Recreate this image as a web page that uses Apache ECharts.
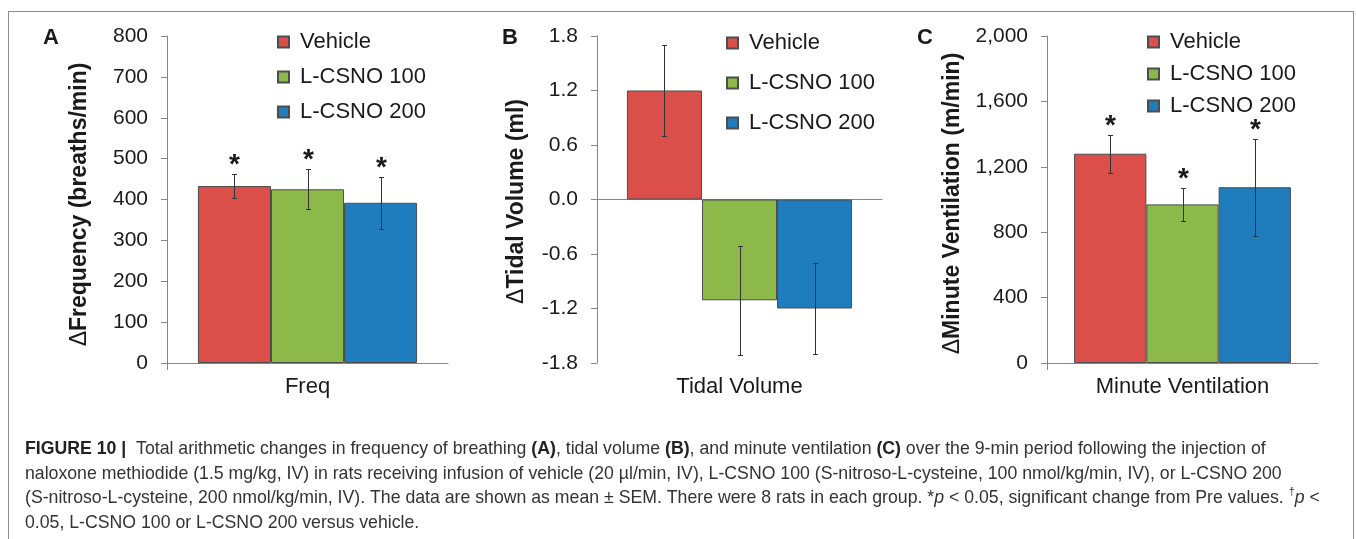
<!DOCTYPE html>
<html>
<head>
<meta charset="utf-8">
<script src="https://cdn.jsdelivr.net/npm/echarts@6/dist/echarts.min.js"></script>
<style>
  html, body { margin: 0; padding: 0; background: #fff; }
  #figure { position: absolute; left: 0; top: 0; width: 1356px; height: 539px; }
  #frame { position: absolute; left: 8px; top: 11px; width: 1344px; height: 540px;
           border: 1px solid #8c8c8c; border-bottom: none; pointer-events: none; }
</style>
</head>
<body>
<div id="figure"></div>
<div id="frame"></div>
<script>
/* jshint esversion: 6 */

// =====================================================================================================================
// DONNEES

var groups = ['Vehicle', 'L-CSNO 100', 'L-CSNO 200'];
var colors = ['#db4f4b', '#8db84a', '#1f7dbe'];

// A : frequence (breaths/min)
var freqCat = ['Freq'];
var freqMean = [433, 425, 392];
var freqSem = [29, 49, 63];
var freqStar = [true, true, true];

// B : volume courant (ml)
var tidalCat = ['Tidal Volume'];
var tidalMean = [1.2, -1.11, -1.2];
var tidalSem = [0.5, 0.6, 0.5];
var tidalStar = [false, false, false];

// C : ventilation minute (m/min)
var mvCat = ['Minute Ventilation'];
var mvMean = [1280, 970, 1075];
var mvSem = [116, 102, 298];
var mvStar = [true, true, true];

var fontFamily = '"Liberation Sans", Arial, sans-serif';
var textColor = '#1a1a1a';
var axisColor = '#868686';

// =====================================================================================================================
// OUTILS

function barSeries(gi, xi, means, gap) {
  'use strict';
  return groups.map(function (name, k) {
    return {
      name: name,
      type: 'bar',
      xAxisIndex: xi,
      yAxisIndex: gi,
      barGap: 0,
      barCategoryGap: gap,
      data: [means[k]],
      itemStyle: {
        color: colors[k],
        borderColor: '#4d4d4d',
        borderWidth: 1
      }
    };
  });
}

// barres d'erreur + etoiles
function errorSeries(gi, xi, means, sems, stars, gap) {
  'use strict';
  var gapRatio = parseFloat(gap) / 100;
  return {
    type: 'custom',
    xAxisIndex: xi,
    yAxisIndex: gi,
    z: 5,
    encode: {x: 0, y: 1},
    data: means.map(function (m, k) {
      return [0, m, sems[k], stars[k] ? 1 : 0, k];
    }),
    renderItem: function (params, api) {
      var mean = api.value(1);
      var sem = api.value(2);
      var k = api.value(4);
      var center = api.coord([0, mean]);
      var band = api.size([1, 0])[0];
      var bw = band * (1 - gapRatio) / 3;
      var x = Math.round(center[0] + (k - 1) * bw) + 0.5;
      var top = Math.round(api.coord([0, mean + sem])[1]) + 0.5;
      var bot = Math.round(api.coord([0, mean - sem])[1]) + 0.5;
      var lineStyle = {stroke: '#333', lineWidth: 1};
      var children = [
        {type: 'line', shape: {x1: x, y1: top, x2: x, y2: bot}, style: lineStyle},
        {type: 'line', shape: {x1: x - 2.5, y1: top, x2: x + 2.5, y2: top}, style: lineStyle},
        {type: 'line', shape: {x1: x - 2.5, y1: bot, x2: x + 2.5, y2: bot}, style: lineStyle}
      ];
      if (api.value(3)) {
        children.push({
          type: 'text',
          style: {
            text: '*',
            x: x,
            y: top - 9,
            align: 'center',
            verticalAlign: 'middle',
            font: 'bold 28px ' + fontFamily,
            fill: textColor
          }
        });
      }
      return {type: 'group', children: children};
    }
  };
}

function valueAxis(gi, min, max, interval, name, gap, shift, formatter) {
  'use strict';
  return {
    type: 'value',
    gridIndex: gi,
    min: min,
    max: max,
    interval: interval,
    name: name,
    nameLocation: 'middle',
    nameGap: gap,
    nameTextStyle: {
      fontFamily: fontFamily,
      fontSize: 23,
      fontWeight: 'bold',
      color: textColor,
      padding: [0, shift, 0, 0],
      rich: {
        d: {fontFamily: fontFamily, fontSize: 23, fontWeight: 'normal', color: textColor}
      }
    },
    axisLine: {show: true, lineStyle: {color: axisColor, width: 1}},
    axisTick: {show: true, length: 6, lineStyle: {color: axisColor}},
    splitLine: {show: false},
    axisLabel: {
      margin: 19,
      fontFamily: fontFamily,
      fontSize: 21,
      color: textColor,
      formatter: formatter
    }
  };
}

function catAxis(gi, data, showLine, showLabel, onZero) {
  'use strict';
  return {
    type: 'category',
    gridIndex: gi,
    position: 'bottom',
    data: data,
    axisLine: {show: showLine, onZero: onZero, lineStyle: {color: axisColor, width: 1}},
    axisTick: {show: false},
    axisLabel: {
      show: showLabel,
      margin: 13,
      fontFamily: fontFamily,
      fontSize: 22,
      color: textColor
    }
  };
}

function legendAt(left, top, gap) {
  'use strict';
  return {
    left: left,
    top: top,
    orient: 'vertical',
    data: groups,
    icon: 'rect',
    itemWidth: 11,
    itemHeight: 11,
    itemGap: gap,
    padding: 0,
    selectedMode: false,
    textStyle: {fontFamily: fontFamily, fontSize: 22, color: textColor, padding: [0, 0, 0, 6]}
  };
}

// =====================================================================================================================
// LEGENDE DE LA FIGURE

var captionLines = [
  '{b|FIGURE 10 |}  Total arithmetic changes in frequency of breathing {b|(A)}, tidal volume {b|(B)}, and minute ventilation {b|(C)} over the 9-min period following the injection of',
  'naloxone methiodide (1.5 mg/kg, IV) in rats receiving infusion of vehicle (20 µl/min, IV), L-CSNO 100 (S-nitroso-L-cysteine, 100 nmol/kg/min, IV), or L-CSNO 200',
  '(S-nitroso-L-cysteine, 200 nmol/kg/min, IV). The data are shown as mean ± SEM. There were 8 rats in each group. *{i|p} < 0.05, significant change from Pre values. {s|†}{i|p} <',
  '0.05, L-CSNO 100 or L-CSNO 200 versus vehicle.'
];

// =====================================================================================================================
// GRAPHIQUE

var figure = echarts.init(document.getElementById('figure'), null, {renderer: 'canvas'});

var gapA = '22%', gapB = '21%', gapC = '20%';
var capSize = 17.7;

var figureOption = {
  animation: false,
  backgroundColor: 'transparent',
  textStyle: {fontFamily: fontFamily},
  title: [
    {text: 'A', left: 43, top: 27, padding: 0, textStyle: {fontFamily: fontFamily, fontSize: 22, fontWeight: 'bold', color: textColor}},
    {text: 'B', left: 502, top: 27, padding: 0, textStyle: {fontFamily: fontFamily, fontSize: 22, fontWeight: 'bold', color: textColor}},
    {text: 'C', left: 917, top: 27, padding: 0, textStyle: {fontFamily: fontFamily, fontSize: 22, fontWeight: 'bold', color: textColor}},
    {
      text: captionLines.join('\n'),
      left: 25,
      top: 437,
      padding: 0,
      textStyle: {
        fontFamily: fontFamily,
        fontSize: capSize,
        fontWeight: 'normal',
        lineHeight: 24.5,
        color: '#333',
        rich: {
          b: {fontFamily: fontFamily, fontSize: capSize, fontWeight: 'bold', color: '#222', lineHeight: 24.5},
          i: {fontFamily: fontFamily, fontSize: capSize, fontStyle: 'italic', color: '#333', lineHeight: 24.5},
          s: {fontFamily: fontFamily, fontSize: 11, color: '#333', verticalAlign: 'top', lineHeight: 24.5, padding: [0, 0, 6, 0]}
        }
      }
    }
  ],
  legend: [
    legendAt(277, 31, 13),
    legendAt(726, 32, 18),
    legendAt(1147, 31, 10)
  ],
  grid: [
    {left: 167, top: 36, width: 281, height: 327},
    {left: 597, top: 36, width: 285, height: 327},
    {left: 1047, top: 36, width: 271, height: 327}
  ],
  xAxis: [
    catAxis(0, freqCat, true, true, false),
    catAxis(1, tidalCat, false, true, false),
    catAxis(1, tidalCat, true, false, true),
    catAxis(2, mvCat, true, true, false)
  ],
  yAxis: [
    valueAxis(0, 0, 800, 100, '{d|Δ}Frequency (breaths/min)', 76, 10, null),
    valueAxis(1, -1.8, 1.8, 0.6, '{d|Δ}Tidal Volume (ml)', 69, 4, function (v) {
      return (Math.round(v * 10) / 10).toFixed(1);
    }),
    valueAxis(2, 0, 2000, 400, '{d|Δ}Minute Ventilation (m/min)', 83, 8, function (v) {
      return String(v).replace(/\B(?=(\d{3})+(?!\d))/g, ',');
    })
  ],
  // petit trait sous l'axe Y (style Excel)
  graphic: [
    {type: 'line', shape: {x1: 167.5, y1: 363, x2: 167.5, y2: 370}, style: {stroke: axisColor, lineWidth: 1}},
    {type: 'line', shape: {x1: 1047.5, y1: 363, x2: 1047.5, y2: 370}, style: {stroke: axisColor, lineWidth: 1}}
  ],
  series: [].concat(
    barSeries(0, 0, freqMean, gapA),
    [errorSeries(0, 0, freqMean, freqSem, freqStar, gapA)],
    barSeries(1, 1, tidalMean, gapB),
    [errorSeries(1, 1, tidalMean, tidalSem, tidalStar, gapB)],
    barSeries(2, 3, mvMean, gapC),
    [errorSeries(2, 3, mvMean, mvSem, mvStar, gapC)]
  )
};

figure.setOption(figureOption);
</script>
</body>
</html>
